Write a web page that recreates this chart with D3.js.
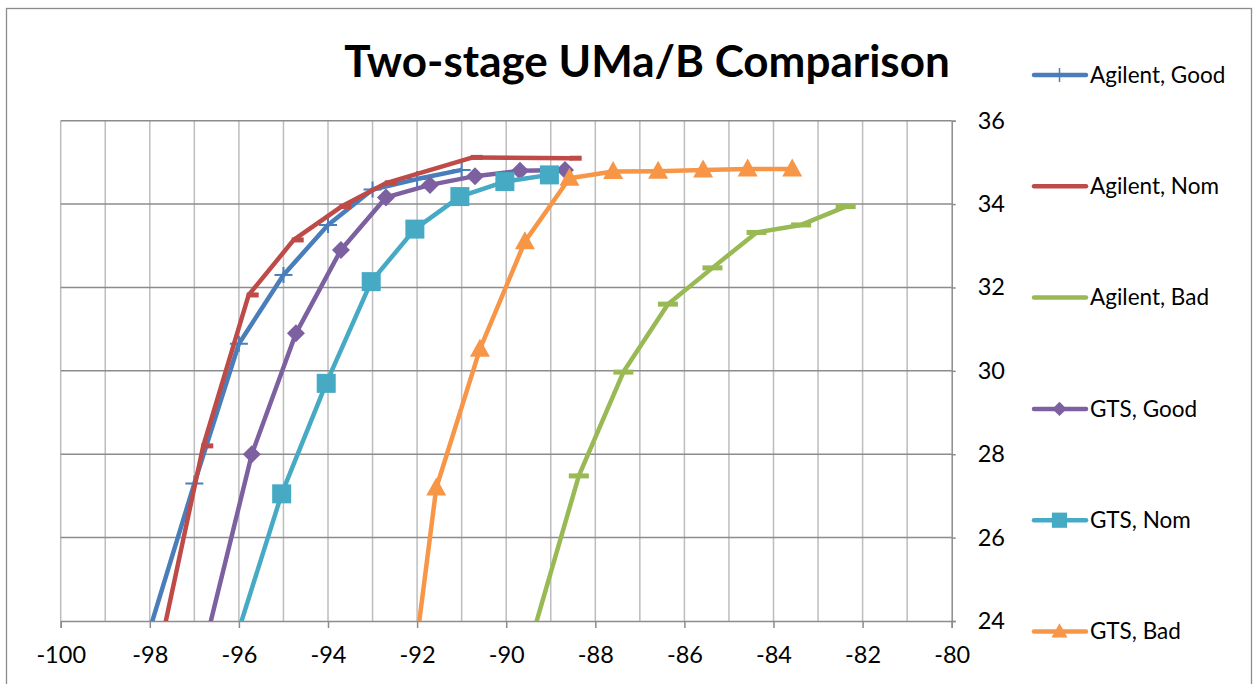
<!DOCTYPE html>
<html>
<head>
<meta charset="utf-8">
<script src="https://cdn.jsdelivr.net/npm/d3@7"></script>
<style>
  html, body { margin: 0; padding: 0; background: #fff; }
  svg { display: block; }
  text { font-family: "Lato", "Liberation Sans", sans-serif; fill: #000; }
</style>
</head>
<body>
<svg id="chart" width="1253" height="684"></svg>
<script>
// ---- data ----
const title = "Two-stage UMa/B Comparison";
const xTicks = [-100, -98, -96, -94, -92, -90, -88, -86, -84, -82, -80];
const yTicks = [24, 26, 28, 30, 32, 34, 36];

const seriesNames = ["Agilent, Good", "Agilent, Nom", "Agilent, Bad", "GTS, Good", "GTS, Nom", "GTS, Bad"];
const seriesColors = ["#4a7ebb", "#be4b48", "#98b954", "#7d60a0", "#46aac5", "#f79646"];
const seriesMarkers = ["plus", "dashR", "dash", "diamond", "square", "triangle"];

const agGoodX = [-98, -97, -96, -95, -94, -93, -92, -91];
const agGoodY = [23.8, 27.3, 30.65, 32.3, 33.5, 34.35, 34.6, 34.82];

const agNomX = [-97.8, -96.8, -95.78, -94.77, -93.7, -92.68, -90.75, -88.53];
const agNomY = [23.2, 28.2, 31.82, 33.14, 33.94, 34.51, 35.12, 35.1];

const agBadX = [-89.37, -88.37, -87.37, -86.37, -85.37, -84.38, -83.38, -82.38];
const agBadY = [23.8, 27.48, 29.97, 31.6, 32.47, 33.32, 33.5, 33.94];

const gtsGoodX = [-96.71, -95.71, -94.72, -93.71, -92.7, -91.71, -90.7, -89.69, -88.68];
const gtsGoodY = [23.65, 28.0, 30.9, 32.9, 34.16, 34.46, 34.67, 34.8, 34.82];

const gtsNomX = [-96.04, -95.04, -94.04, -93.03, -92.05, -91.04, -90.03, -89.03];
const gtsNomY = [23.66, 27.05, 29.7, 32.14, 33.4, 34.18, 34.54, 34.7];

const gtsBadX = [-92.57, -91.57, -90.59, -89.58, -88.58, -87.6, -86.59, -85.58, -84.58, -83.58];
const gtsBadY = [18.8, 27.19, 30.52, 33.1, 34.62, 34.78, 34.79, 34.82, 34.84, 34.84];

const allX = [agGoodX, agNomX, agBadX, gtsGoodX, gtsNomX, gtsBadX];
const allY = [agGoodY, agNomY, agBadY, gtsGoodY, gtsNomY, gtsBadY];

// ---- layout ----
const svg = d3.select("#chart");
const L = 60.7, R = 951.7, T = 120.7, B = 621;
const x = d3.scaleLinear().domain([-100, -80]).range([L, R]);
const y = d3.scaleLinear().domain([24, 36]).range([B, T]);

// outer frame
svg.append("rect").attr("x", 6.5).attr("y", 8.5).attr("width", 1245).attr("height", 700)
  .attr("fill", "none").attr("stroke", "#8c8c8c").attr("stroke-width", 1.3);

// gridlines
const minorX = d3.range(-100, -79, 1);
svg.append("g").selectAll("line").data(minorX.filter(d => d !== -80)).join("line")
  .attr("x1", d => x(d)).attr("x2", d => x(d)).attr("y1", T).attr("y2", B)
  .attr("stroke", "#bdbdbd").attr("stroke-width", 1.5);
svg.append("g").selectAll("line").data(yTicks.filter(d => d !== 24)).join("line")
  .attr("x1", L).attr("x2", R).attr("y1", d => y(d)).attr("y2", d => y(d))
  .attr("stroke", "#8c8c8c").attr("stroke-width", 1.5);

// x axis
const xAxis = svg.append("g").attr("transform", `translate(0,${B})`)
  .call(d3.axisBottom(x).tickValues(xTicks).tickSize(7).tickPadding(18).tickFormat(d3.format("d")));
xAxis.select(".domain").attr("stroke", "#8c8c8c").attr("stroke-width", 1.5);
xAxis.selectAll(".tick line").attr("stroke", "#8c8c8c").attr("stroke-width", 1.5);
xAxis.selectAll(".tick text").style("font-size", "23.5px").attr("fill", "#000")
  .style("font-family", '"Lato","Liberation Sans",sans-serif').text(d => d3.format("d")(d).replace("\u2212", "-"));

// y axis (right)
const yAxis = svg.append("g").attr("transform", `translate(${R},0)`)
  .call(d3.axisRight(y).tickValues(yTicks).tickSize(4).tickPadding(22).tickFormat(d3.format("d")));
yAxis.select(".domain").attr("stroke", "#8c8c8c").attr("stroke-width", 1.5);
yAxis.selectAll(".tick line").attr("stroke", "#8c8c8c").attr("stroke-width", 1.5);
yAxis.selectAll(".tick text").style("font-size", "23.5px").attr("fill", "#000")
  .style("font-family", '"Lato","Liberation Sans",sans-serif');

// clip
svg.append("clipPath").attr("id", "plotclip").append("rect")
  .attr("x", L - 15).attr("y", T - 15).attr("width", R - L + 30).attr("height", B - T + 15);

function drawMarker(g, type, cx, cy, color, s) {
  s = s || 1;
  if (type === "plus") {
    g.append("line").attr("x1", cx - 9 * s).attr("x2", cx + 9 * s).attr("y1", cy).attr("y2", cy)
      .attr("stroke", color).attr("stroke-width", 2);
    g.append("line").attr("x1", cx).attr("x2", cx).attr("y1", cy - 8 * s).attr("y2", cy + 8 * s)
      .attr("stroke", color).attr("stroke-width", 2);
  } else if (type === "dash") {
    g.append("rect").attr("x", cx - 10 * s).attr("y", cy - 2.5).attr("width", 20 * s).attr("height", 5).attr("fill", color);
  } else if (type === "dashR") {
    g.append("rect").attr("x", cx - 2 * s).attr("y", cy - 2.5).attr("width", 12 * s).attr("height", 5).attr("fill", color);
  } else if (type === "diamond") {
    const r = 9 * s;
    g.append("path").attr("d", `M${cx},${cy - r}L${cx + r},${cy}L${cx},${cy + r}L${cx - r},${cy}Z`).attr("fill", color);
  } else if (type === "square") {
    const w = 19 * s;
    g.append("rect").attr("x", cx - w / 2).attr("y", cy - w / 2).attr("width", w).attr("height", w).attr("fill", color);
  } else if (type === "triangle") {
    const w = 20 * s, h = 18 * s;
    g.append("path").attr("d", `M${cx},${cy - h * 0.58}L${cx + w / 2},${cy + h * 0.42}L${cx - w / 2},${cy + h * 0.42}Z`).attr("fill", color);
  }
}

const plot = svg.append("g").attr("clip-path", "url(#plotclip)");
const lineGen = d3.line().x(d => x(d[0])).y(d => y(d[1]));
seriesNames.forEach((name, i) => {
  const pts = allX[i].map((v, k) => [v, allY[i][k]]);
  const g = plot.append("g");
  g.append("path").datum(pts).attr("d", lineGen).attr("fill", "none")
    .attr("stroke", seriesColors[i]).attr("stroke-width", 4.5).attr("stroke-linejoin", "round").attr("stroke-linecap", "butt");
  pts.forEach(p => {
    if (p[1] >= 24) drawMarker(g, seriesMarkers[i], x(p[0]), y(p[1]), seriesColors[i], 1);
  });
});

// title
svg.append("text").attr("x", 647).attr("y", 77).attr("text-anchor", "middle")
  .style("font-size", "44px").style("font-weight", "bold").text(title);

// legend
const legY0 = 75, legDY = 111.3;
seriesNames.forEach((name, i) => {
  const ly = legY0 + i * legDY;
  const g = svg.append("g");
  g.append("line").attr("x1", 1034).attr("x2", 1086).attr("y1", ly).attr("y2", ly)
    .attr("stroke", seriesColors[i]).attr("stroke-width", 4.5).attr("stroke-linecap", "round");
  const m = seriesMarkers[i] === "dashR" ? null : seriesMarkers[i];
  if (m === "plus") {
    g.append("line").attr("x1", 1059.5).attr("x2", 1059.5).attr("y1", ly - 7).attr("y2", ly + 7)
      .attr("stroke", seriesColors[i]).attr("stroke-width", 1.5);
  } else if (m && m !== "dash") {
    drawMarker(g, m, 1059.5, ly, seriesColors[i], 0.8);
  }
  g.append("text").attr("x", 1090).attr("y", ly).attr("dy", "0.35em")
    .style("font-size", "22.5px").text(name);
});
</script>
</body>
</html>
